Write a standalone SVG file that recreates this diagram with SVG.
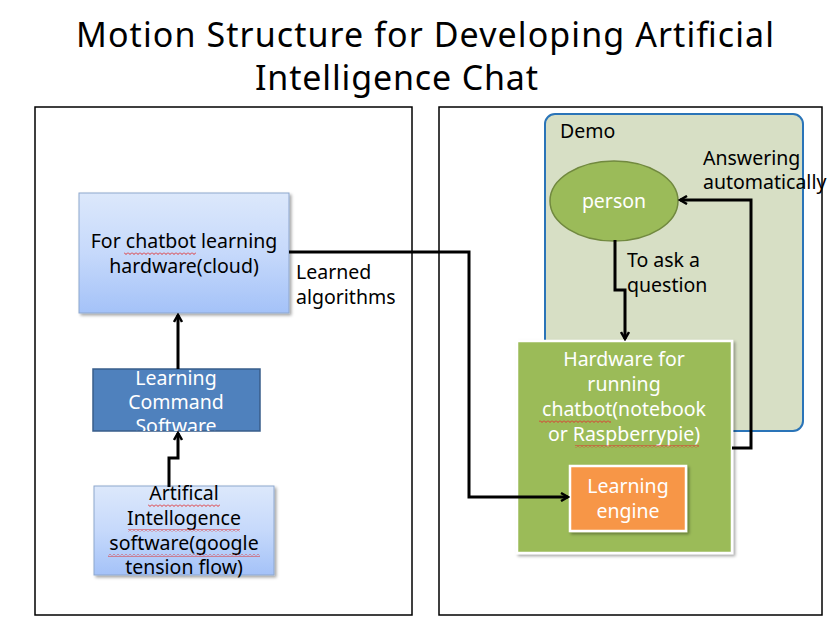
<svg xmlns="http://www.w3.org/2000/svg" width="835" height="626" viewBox="0 0 835 626">
<defs>
<linearGradient id="blueGrad" x1="0" y1="0" x2="0" y2="1">
<stop offset="0" stop-color="#dce8fb"/>
<stop offset="0.5" stop-color="#c6d9fb"/>
<stop offset="1" stop-color="#a4c2f8"/>
</linearGradient>
<pattern id="squigPat" x="0" y="0" width="4" height="3" patternUnits="userSpaceOnUse">
<path d="M0,0.5 L2,2.5 L4,0.5" fill="none" stroke="#e03030" stroke-width="1"/>
</pattern>
<marker id="arrow" markerWidth="10" markerHeight="10" refX="8" refY="5" orient="auto" markerUnits="userSpaceOnUse">
<path d="M1,1 L8,5 L1,9" fill="none" stroke="#000" stroke-width="2.5"/>
</marker>
<filter id="shadow" x="-10%" y="-10%" width="130%" height="130%">
<feDropShadow dx="2" dy="2" stdDeviation="1.5" flood-color="#000" flood-opacity="0.35"/>
</filter>
</defs>
<style>
text { font-family: "Noto Sans", "Open Sans", sans-serif; }
.title { font-size: 34px; fill: #000; }
.lbl { font-size: 19.5px; fill: #000; }
.wht { font-size: 19.5px; fill: #fff; }
.panel { fill: #fff; stroke: #000; stroke-width: 1.5; }
.conn { fill: none; stroke: #000; stroke-width: 3; }
.squig { fill: url(#squigPat); }
</style>
<rect width="835" height="626" fill="#fff"/>
<g id="title">
<text class="title" x="425" y="47" text-anchor="middle" textLength="698">Motion Structure for Developing Artificial</text>
<text class="title" x="255" y="90" textLength="283">Intelligence Chat</text>
</g>
<g id="left-panel"><rect class="panel" x="35" y="107" width="377" height="508"/></g>
<g id="right-panel"><rect class="panel" x="439" y="107" width="383" height="508"/></g>
<g id="demo">
<rect x="545" y="114" width="258" height="317" rx="10" ry="10" fill="#d7dfc5" stroke="#2a74b8" stroke-width="2"/>
<text class="lbl" x="560" y="138">Demo</text>
</g>
<g id="cloud-hw">
<rect x="79" y="193" width="210" height="120" fill="url(#blueGrad)" stroke="#8ea7ce" stroke-width="1" filter="url(#shadow)"/>
<text class="lbl" x="184" y="248" text-anchor="middle">For chatbot learning</text>
<text class="lbl" x="184" y="273" text-anchor="middle">hardware(cloud)</text>
<rect class="squig" x="124" y="252" width="72" height="3"/>
</g>
<g id="learning-command">
<rect x="93" y="369" width="167" height="62" fill="#4f81bd" stroke="#385d8a" stroke-width="1.5"/>
<svg x="93" y="369" width="167" height="62" overflow="hidden">
<text class="wht" x="83" y="16" text-anchor="middle">Learning</text>
<text class="wht" x="83" y="40" text-anchor="middle">Command</text>
<text class="wht" x="83" y="64" text-anchor="middle">Software</text>
</svg>
</g>
<g id="ai-software">
<rect x="94" y="486" width="180" height="89" fill="url(#blueGrad)" stroke="#8ea7ce" stroke-width="1" filter="url(#shadow)"/>
<text class="lbl" x="184" y="500" text-anchor="middle">Artifical</text>
<text class="lbl" x="184" y="525" text-anchor="middle">Intellogence</text>
<text class="lbl" x="184" y="550" text-anchor="middle">software(google</text>
<text class="lbl" x="184" y="574" text-anchor="middle">tension flow)</text>
<rect class="squig" x="148" y="504" width="72" height="3"/>
<rect class="squig" x="128" y="529" width="112" height="3"/>
<rect class="squig" x="108" y="554" width="152" height="3"/>
</g>
<g id="person">
<ellipse cx="614" cy="201" rx="64" ry="40" fill="#9bbb59" stroke="#71893f" stroke-width="1.5"/>
<text class="wht" x="614" y="208" text-anchor="middle">person</text>
</g>
<g id="hw-running">
<rect x="517" y="341" width="215" height="212" fill="#9bbb59" stroke="#fff" stroke-width="2.5" filter="url(#shadow)"/>
<text class="wht" x="624" y="366" text-anchor="middle">Hardware for</text>
<text class="wht" x="624" y="391" text-anchor="middle">running</text>
<text class="wht" x="624" y="416" text-anchor="middle">chatbot(notebook</text>
<text class="wht" x="624" y="441" text-anchor="middle">or Raspberrypie)</text>
<rect class="squig" x="539" y="420" width="72" height="3"/>
<rect class="squig" x="575" y="445" width="124" height="3"/>
</g>
<g id="learning-engine">
<rect x="570" y="466" width="116" height="65" fill="#f79646" stroke="#fff" stroke-width="2.5" filter="url(#shadow)"/>
<text class="wht" x="628" y="493" text-anchor="middle">Learning</text>
<text class="wht" x="628" y="518" text-anchor="middle">engine</text>
</g>
<g id="connectors">
<path class="conn" d="M289,252 H469 V497 H568" marker-end="url(#arrow)"/>
<path class="conn" d="M178,369 V315" marker-end="url(#arrow)"/>
<path class="conn" d="M169,487 V458 H178 V433" marker-end="url(#arrow)"/>
<path class="conn" d="M615,240 V290 H625 V339" marker-end="url(#arrow)"/>
<path class="conn" d="M732,448 H751 V200 H680" marker-end="url(#arrow)"/>
<text class="lbl" x="296" y="279">Learned</text>
<text class="lbl" x="296" y="304">algorithms</text>
<text class="lbl" x="627" y="267">To ask a</text>
<text class="lbl" x="627" y="292">question</text>
<text class="lbl" x="703" y="165">Answering</text>
<text class="lbl" x="703" y="189">automatically</text>
</g>
</svg>
